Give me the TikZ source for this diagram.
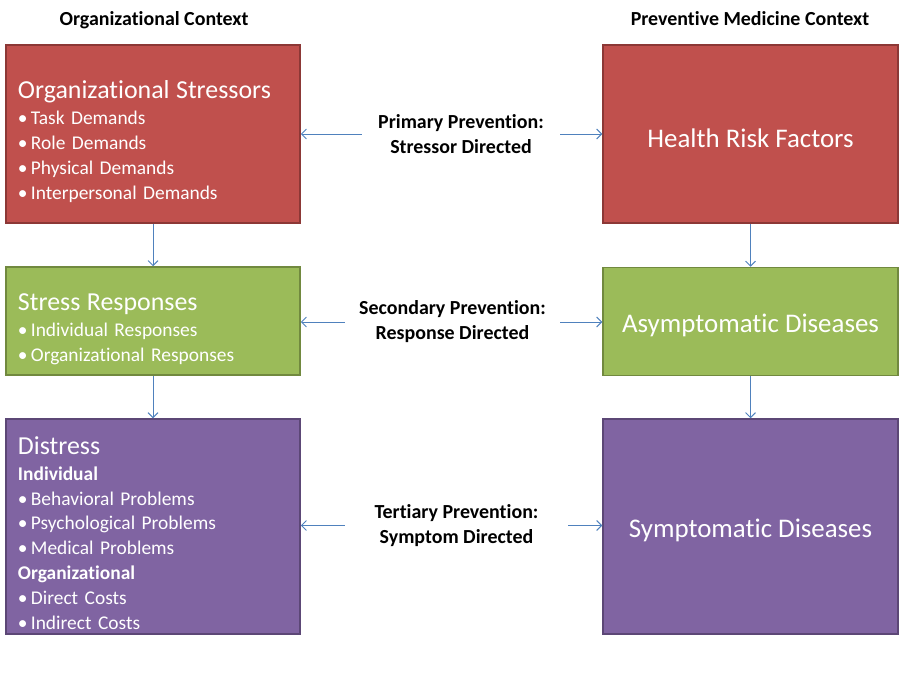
\documentclass[tikz,border=0pt]{standalone}
\usepackage{fontspec}
\setmainfont{Carlito}[Ligatures=NoCommon]
\usepackage{tikz}
\usetikzlibrary{arrows.meta}
\definecolor{boxred}{HTML}{C0504D}
\definecolor{boxredline}{HTML}{8C3836}
\definecolor{boxgreen}{HTML}{9BBB59}
\definecolor{boxgreenline}{HTML}{71893F}
\definecolor{boxpurple}{HTML}{8064A2}
\definecolor{boxpurpleline}{HTML}{5C4776}
\definecolor{arrowblue}{HTML}{4F81BD}

\begin{document}
\begin{tikzpicture}[x=1bp,y=-1bp,
  box/.style={draw,line width=1.5bp,minimum width=294bp,text width=270bp,inner xsep=12bp,
    align=left,text=white,font=\fontsize{19.5}{25}\selectfont},
  riskbox/.style={draw,line width=1.5bp,minimum width=295bp,text=white,
    text height=27bp,text depth=6bp,font=\fontsize{27}{30}\selectfont},
  prevlabel/.style={inner xsep=0bp,align=center,font=\bfseries\fontsize{20}{25}\selectfont},
  ctxlabel/.style={anchor=base,font=\bfseries\fontsize{20}{24}\selectfont},
  link/.style={arrowblue,line width=0.9bp,-{Straight Barb[length=5bp,width=10bp]}}]

\useasboundingbox (0,0) rectangle (900,680);

\node[ctxlabel] (orgctx) at (154,26) {Organizational Context};
\node[ctxlabel] (medctx) at (750,26) {Preventive Medicine Context};

\node[box,fill=boxred,draw=boxredline,minimum height=178bp] (stressors) at (153,134)
  {\rule{0pt}{33bp}{\fontsize{26}{28}\selectfont Organizational Stressors}\\[1bp]
   •\,Task Demands\\ •\,Role Demands\\ •\,Physical Demands\\ •\,Interpersonal Demands};
\node[box,fill=boxgreen,draw=boxgreenline,minimum height=108bp] (responses) at (153,321)
  {\rule{0pt}{33bp}{\fontsize{26}{28}\selectfont Stress Responses}\\[1bp]
   •\,Individual Responses\\ •\,Organizational Responses};
\node[box,fill=boxpurple,draw=boxpurpleline,minimum height=215bp] (distress) at (153,526.5)
  {\rule{0pt}{31bp}{\fontsize{26}{28}\selectfont Distress}\\[1bp]
   \textbf{Individual}\\ •\,Behavioral Problems\\ •\,Psychological Problems\\ •\,Medical Problems\\
   \textbf{Organizational}\\ •\,Direct Costs\\ •\,Indirect Costs};

\node[riskbox,fill=boxred,draw=boxredline,minimum height=178bp,text height=33bp] (riskfactors) at (750.5,134) {Health Risk Factors};
\node[riskbox,fill=boxgreen,draw=boxgreenline,minimum height=108bp] (asymptomatic) at (750.5,321.5) {Asymptomatic Diseases};
\node[riskbox,fill=boxpurple,draw=boxpurpleline,minimum height=215bp] (symptomatic) at (750.5,526.5) {Symptomatic Diseases};

\node[prevlabel,minimum width=198bp] (primary) at (461,134) {Primary Prevention:\\Stressor Directed};
\node[prevlabel,minimum width=215bp] (secondary) at (452.5,322) {Secondary Prevention:\\Response Directed};
\node[prevlabel,minimum width=223bp] (tertiary) at (456.5,525.5) {Tertiary Prevention:\\Symptom Directed};

\draw[link] (stressors) -- (responses);
\draw[link] (responses) -- (distress);
\draw[link] (riskfactors) -- (asymptomatic);
\draw[link] (asymptomatic) -- (symptomatic);

\draw[link] (primary.west) -- (stressors.east |- primary.west);
\draw[link] (primary.east) -- (riskfactors.west |- primary.east);
\draw[link] (secondary.west) -- (responses.east |- secondary.west);
\draw[link] (secondary.east) -- (asymptomatic.west |- secondary.east);
\draw[link] (tertiary.west) -- (distress.east |- tertiary.west);
\draw[link] (tertiary.east) -- (symptomatic.west |- tertiary.east);

\end{tikzpicture}
\end{document}
